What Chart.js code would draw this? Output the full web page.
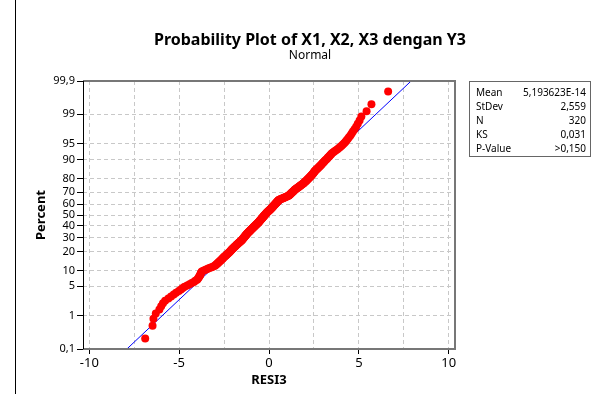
<!DOCTYPE html>
<html>
<head>
<meta charset="utf-8">
<script src="https://cdn.jsdelivr.net/npm/chart.js@4/dist/chart.umd.min.js"></script>
<style>
  body { margin: 0; background: #fff; font-family: "Noto Sans", sans-serif; }
  #wrap { position: relative; width: 595px; height: 394px; overflow: hidden; }
  #c { position: absolute; left: 0; top: 0; }
  #edge { position: absolute; left: 15px; top: 0; width: 1px; height: 394px; background: #000; }
  #stats { position: absolute; left: 469px; top: 81px; width: 122px; height: 76px; border: 1px solid #666;
           font-size: 10px; color: #000; padding-top: 3px; box-sizing: border-box; }
  #stats .row { display: flex; justify-content: space-between; height: 14px; line-height: 14px; padding: 0 4px 0 6px; }
</style>
</head>
<body>
<div id="wrap">
  <canvas id="c" width="595" height="394"></canvas>
  <div id="edge"></div>
  <div id="stats"></div>
</div>
<script>
// sorted residuals (RESI3), n = 320
const resi3 = [
  -6.89, -6.48, -6.43, -6.30, -6.10, -6.00, -5.90, -5.78, -5.60, -5.45,
  -5.30, -5.17, -5.02, -4.90, -4.80, -4.70, -4.55, -4.42, -4.30, -4.18,
  -4.10, -4.00, -3.96, -3.92, -3.89, -3.85, -3.83, -3.81, -3.79, -3.77,
  -3.74, -3.65, -3.56, -3.47, -3.38, -3.28, -3.19, -3.10, -3.01,
  -2.97, -2.93, -2.89, -2.85, -2.82, -2.78, -2.74, -2.71, -2.67,
  -2.64, -2.61, -2.58, -2.55, -2.52, -2.49, -2.45, -2.42, -2.39, -2.36,
  -2.33, -2.30, -2.27, -2.24, -2.21, -2.18,
  -2.16, -2.13, -2.11, -2.08, -2.06, -2.03, -2.01, -1.98, -1.96, -1.93, -1.90,
  -1.88, -1.85, -1.83, -1.80, -1.78, -1.75, -1.73, -1.70, -1.68, -1.65,
  -1.62, -1.60, -1.57, -1.55, -1.52,
  -1.50, -1.49, -1.47, -1.45, -1.43, -1.41, -1.40, -1.38, -1.36, -1.34,
  -1.32, -1.31, -1.29, -1.27, -1.25, -1.24, -1.22, -1.20,
  -1.18, -1.16, -1.14, -1.12, -1.10, -1.08, -1.06, -1.04, -1.02, -1.00,
  -0.98, -0.96, -0.94, -0.92, -0.90, -0.88, -0.86, -0.84, -0.82, -0.80,
  -0.78, -0.76, -0.74, -0.72, -0.70, -0.68, -0.66, -0.64, -0.62, -0.60,
  -0.58, -0.57, -0.55,
  -0.53, -0.52, -0.50, -0.49, -0.47, -0.45, -0.44, -0.42, -0.40, -0.39,
  -0.37, -0.36, -0.34, -0.32, -0.31, -0.29, -0.28, -0.26, -0.24, -0.23,
  -0.21, -0.20, -0.18, -0.16, -0.15,
  -0.13, -0.11, -0.09, -0.07, -0.05, -0.03, -0.01, 0.01, 0.03, 0.05,
  0.07, 0.09, 0.11, 0.13, 0.15, 0.16, 0.18, 0.20, 0.22, 0.23,
  0.25, 0.27, 0.28, 0.30,
  0.32, 0.34, 0.36, 0.37, 0.39, 0.41, 0.43, 0.44, 0.46, 0.48,
  0.50, 0.51, 0.53, 0.55,
  0.60, 0.64, 0.69, 0.74, 0.78, 0.83, 0.87, 0.92, 0.97, 1.01, 1.06, 1.10,
  1.12, 1.15, 1.17, 1.19, 1.21, 1.24, 1.26, 1.28, 1.31, 1.33, 1.35, 1.37, 1.40, 1.42, 1.44,
  1.47, 1.50, 1.53, 1.56, 1.60, 1.63, 1.66, 1.69, 1.72, 1.75, 1.78, 1.81, 1.85, 1.88, 1.91,
  1.94, 1.97, 1.99, 2.02, 2.05, 2.07, 2.10, 2.13, 2.15, 2.18, 2.21, 2.24, 2.26, 2.29, 2.32, 2.34, 2.37,
  2.39, 2.42, 2.44, 2.46, 2.49, 2.51, 2.53, 2.56, 2.58,
  2.62, 2.65, 2.69, 2.72, 2.76, 2.79, 2.83, 2.86, 2.90, 2.93, 2.97, 3.00, 3.04, 3.07, 3.11,
  3.15, 3.20, 3.24, 3.28, 3.33, 3.37, 3.41, 3.46, 3.50,
  3.58, 3.65, 3.73, 3.81, 3.89, 3.96, 4.04,
  4.11, 4.18, 4.25, 4.31, 4.38,
  4.45, 4.53, 4.60, 4.67,
  4.76, 4.85, 4.94,
  5.04, 5.14,
  5.43, 5.70, 6.63
];

const pctTicks   = [0.1, 1, 5, 10, 20, 30, 40, 50, 60, 70, 80, 90, 95, 99, 99.9];
const statNames  = ['Mean', 'StDev', 'N', 'KS', 'P-Value'];
const statValues = ['5,193623E-14', '2,559', '320', '0,031', '>0,150'];
const MEAN = 5.193623e-14;
const SD   = 2.559;

// inverse normal cdf (Acklam)
function probit(p) {
  const a = [-3.969683028665376e+01, 2.209460984245205e+02, -2.759285104469687e+02, 1.383577518672690e+02, -3.066479806614716e+01, 2.506628277459239e+00];
  const b = [-5.447609879822406e+01, 1.615858368580409e+02, -1.556989798598866e+02, 6.680131188771972e+01, -1.328068155288572e+01];
  const c = [-7.784894002430293e-03, -3.223964580411365e-01, -2.400758277161838e+00, -2.549732539343734e+00, 4.374664141464968e+00, 2.938163982698783e+00];
  const d = [7.784695709041462e-03, 3.224671290700398e-01, 2.445134137142996e+00, 3.754408661907416e+00];
  const pl = 0.02425;
  if (p < pl) {
    const q = Math.sqrt(-2 * Math.log(p));
    return (((((c[0]*q+c[1])*q+c[2])*q+c[3])*q+c[4])*q+c[5]) / ((((d[0]*q+d[1])*q+d[2])*q+d[3])*q+1);
  }
  if (p > 1 - pl) {
    const q = Math.sqrt(-2 * Math.log(1 - p));
    return -(((((c[0]*q+c[1])*q+c[2])*q+c[3])*q+c[4])*q+c[5]) / ((((d[0]*q+d[1])*q+d[2])*q+d[3])*q+1);
  }
  const q = p - 0.5, r = q * q;
  return (((((a[0]*r+a[1])*r+a[2])*r+a[3])*r+a[4])*r+a[5])*q / (((((b[0]*r+b[1])*r+b[2])*r+b[3])*r+b[4])*r+1);
}

function normCdf(z) {
  const t = 1 / (1 + 0.2316419 * Math.abs(z));
  const y = 0.3989423 * Math.exp(-z * z / 2) * t * (0.3193815 + t * (-0.3565638 + t * (1.781478 + t * (-1.821256 + t * 1.330274))));
  return z > 0 ? 1 - y : y;
}

// normal probability axis (values in percent)
class ProbitScale extends Chart.Scale {
  determineDataLimits() {
    this.min = this.options.min;
    this.max = this.options.max;
  }
  buildTicks() {
    return pctTicks.map(v => ({ value: v }));
  }
  configure() {
    super.configure();
    this._zMin = probit(this.min / 100);
    this._zMax = probit(this.max / 100);
  }
  getLabelForValue(v) { return String(v); }
  getPixelForValue(v) {
    const z = probit(v / 100);
    return this.getPixelForDecimal((z - this._zMin) / (this._zMax - this._zMin));
  }
  getValueForPixel(px) {
    const z = this._zMin + this.getDecimalForPixel(px) * (this._zMax - this._zMin);
    return normCdf(z) * 100;
  }
}
ProbitScale.id = 'probit';
ProbitScale.defaults = {};
Chart.register(ProbitScale);

const n = resi3.length;
const points = resi3.map((v, i) => ({ x: v, y: 100 * (i + 1 - 0.3) / (n + 0.4) }));
const fitLine = [0.1, 99.9].map(p => ({ x: MEAN + SD * probit(p / 100), y: p }));

document.getElementById('stats').innerHTML = statNames
  .map((s, i) => `<div class="row"><span>${s}</span><span>${statValues[i]}</span></div>`).join('');

const framePlugin = {
  id: 'frame',
  afterDraw(chart) {
    const { ctx, chartArea: { left, top, right, bottom } } = chart;
    ctx.save();
    ctx.strokeStyle = '#777';
    ctx.lineWidth = 2;
    ctx.beginPath();
    ctx.moveTo(left, top); ctx.lineTo(right, top); ctx.lineTo(right, bottom); ctx.lineTo(left, bottom);
    ctx.stroke();
    ctx.strokeStyle = '#000';
    ctx.lineWidth = 1;
    ctx.beginPath();
    ctx.moveTo(left + 0.5, top); ctx.lineTo(left + 0.5, bottom);
    ctx.stroke();

    ctx.fillStyle = '#000';
    ctx.textAlign = 'center';
    ctx.textBaseline = 'middle';
    ctx.font = 'bold 16px "Noto Sans"';
    ctx.fillText('Probability Plot of X1, X2, X3 dengan Y3', 310, 40);
    ctx.font = '12px "Noto Sans"';
    ctx.fillText('Normal', 310, 56);
    ctx.restore();
  }
};

const gridColor = '#c8c8c8';

new Chart(document.getElementById('c'), {
  type: 'scatter',
  data: {
    datasets: [
      {
        label: 'RESI3',
        data: points,
        backgroundColor: '#ff0000',
        borderColor: '#ff0000',
        pointRadius: 4,
        pointBorderWidth: 0,
        order: 0,
      },
      {
        label: 'Fit',
        data: fitLine,
        showLine: true,
        borderColor: '#0000ff',
        borderWidth: 1,
        pointRadius: 0,
        order: 1,
      },
    ],
  },
  options: {
    responsive: false,
    animation: false,
    layout: { padding: { left: 0, right: 140, top: 81, bottom: 0 } },
    plugins: { legend: { display: false }, tooltip: { enabled: false } },
    scales: {
      x: {
        type: 'linear', min: -10.35, max: 10.35,
        ticks: {
          stepSize: 2.5, includeBounds: false, autoSkip: false, maxRotation: 0, padding: 1,
          color: '#000', font: { family: 'Noto Sans', size: 13 },
          callback: v => (v % 5 === 0 ? String(v) : ''),
        },
        grid: {
          color: gridColor, tickLength: 5,
          tickColor: ctx => (ctx.tick && ctx.tick.value % 5 === 0 ? '#000' : 'rgba(0,0,0,0)'),
        },
        border: { display: false, dash: [4, 3] },
        title: { display: true, text: 'RESI3', color: '#000', font: { family: 'Noto Sans', size: 13, weight: 'bold' }, padding: { top: 0, bottom: 6 } },
        afterFit: s => { s.height = 45; },
      },
      y: {
        type: 'probit', min: 0.1, max: 99.9,
        ticks: {
          autoSkip: false, padding: 2, color: '#000', font: { family: 'Noto Sans', size: 11 },
          callback: v => String(v).replace('.', ','),
        },
        grid: { color: gridColor, tickLength: 6, tickColor: '#000' },
        border: { display: false, dash: [4, 3] },
        title: { display: true, text: 'Percent', color: '#000', font: { family: 'Noto Sans', size: 13, weight: 'bold' }, padding: { top: 33, bottom: 0 } },
        afterFit: s => { s.width = 83; },
      },
    },
  },
  plugins: [framePlugin],
});
</script>
</body>
</html>
